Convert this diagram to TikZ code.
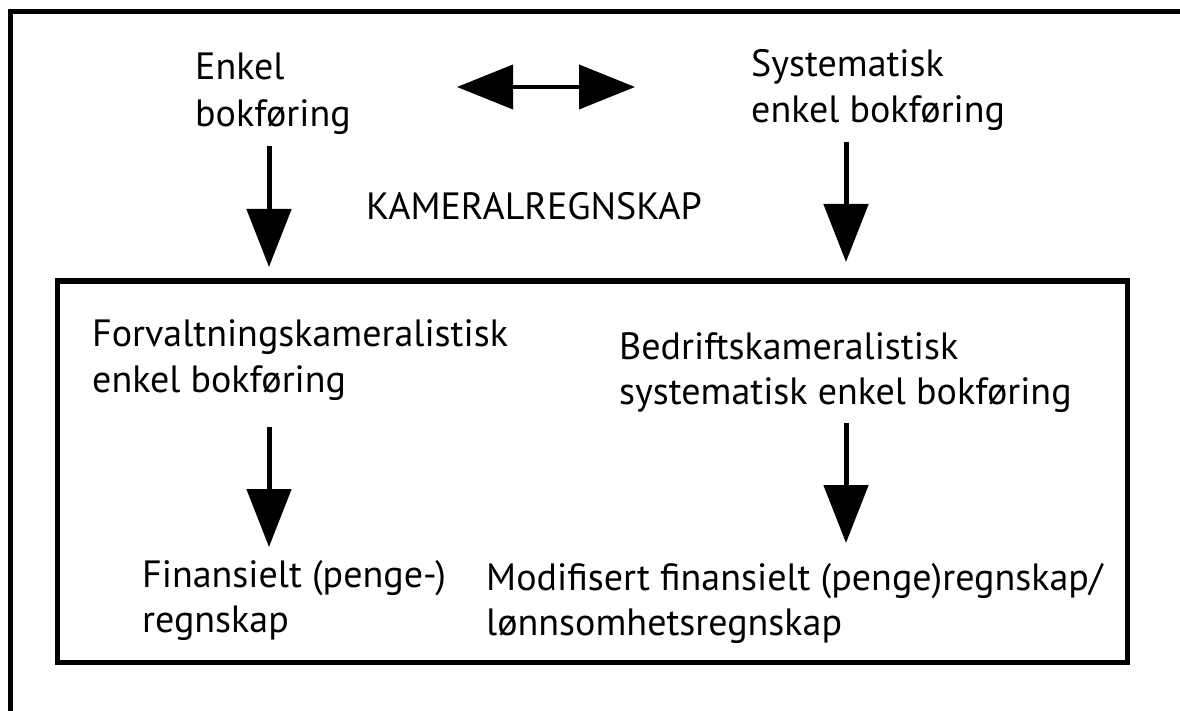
\documentclass[tikz,border=0pt]{standalone}
\usepackage{fontspec}
\setmainfont{PT Sans}
\usetikzlibrary{arrows.meta}
\newcommand{\twolines}[3]{\vtop{\baselineskip=#3pt\hbox{#1}\hbox{#2}}}
\tikzset{
  txt/.style={anchor=base west, inner sep=0pt, font=\fontsize{38}{47}\selectfont},
  bigarrow/.style={line width=5pt, -{Triangle[width=44pt,length=58pt]}},
  dblarrow/.style={line width=4pt, {Triangle[width=44pt,length=56pt]}-{Triangle[width=44pt,length=56pt]}},
  frame/.style={draw=black, line width=4.5pt},
}
\begin{document}
\begin{tikzpicture}[x=1pt,y=-1pt]
\useasboundingbox (0,0) rectangle (1180,711);
\fill[white] (0,0) rectangle (1180,711);
\begin{scope}
\clip (0,0) rectangle (1180,711);
\draw[frame] (10.5,11.5) rectangle (1210,760);
\end{scope}
\draw[frame, line width=5pt] (57,281) rectangle (1127,662);

\node[txt] (enkel) at (195,80) {\twolines{Enkel}{bokføring}{47}};
\node[txt] (syst) at (751,77) {\twolines{Systematisk}{enkel bokføring}{46}};
\node[txt] (kam) at (366,220) {KAMERALREGNSKAP};
\node[txt] (forv) at (92,346) {\twolines{Forvaltningskameralistisk}{enkel bokføring}{46}};
\node[txt] (bedr) at (619,359) {\twolines{Bedriftskameralistisk}{systematisk enkel bokføring}{45}};
\node[txt] (fin) at (142,587) {\twolines{Finansielt (penge-)}{regnskap}{45}};
\node[txt] (mod) at (486,590) {\twolines{Modifisert finansielt (penge)regnskap/}{lønnsomhetsregnskap}{45}};

\coordinate (a1s) at (269,146);
\coordinate (a1e) at (269,267);
\coordinate (a2s) at (846,142);
\coordinate (a2e) at (846,262);
\coordinate (a3s) at (269,427);
\coordinate (a3e) at (269,547);
\coordinate (a4s) at (846,423);
\coordinate (a4e) at (846,543);
\coordinate (dl) at (457,87);
\coordinate (dr) at (635,87);

\draw[bigarrow] (a1s) -- (a1e);
\draw[bigarrow] (a2s) -- (a2e);
\draw[bigarrow] (a3s) -- (a3e);
\draw[bigarrow] (a4s) -- (a4e);
\draw[dblarrow] (dl) -- (dr);
\end{tikzpicture}
\end{document}
